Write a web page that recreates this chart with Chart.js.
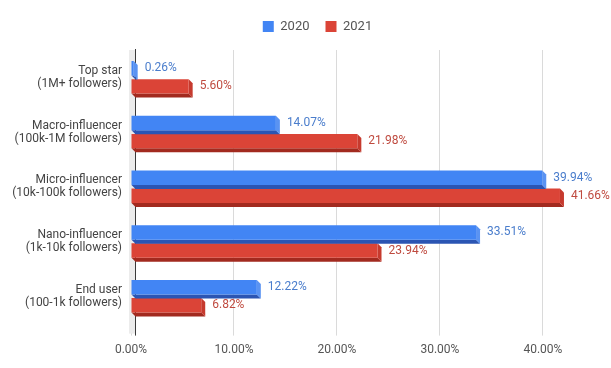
<!DOCTYPE html>
<html>
<head>
<meta charset="utf-8">
<script src="https://cdn.jsdelivr.net/npm/chart.js@4.4.1/dist/chart.umd.min.js"></script>
<style>
  html, body { margin: 0; padding: 0; background: #ffffff; }
  #wrap { width: 611px; height: 368px; position: relative; }
</style>
</head>
<body>
<div id="wrap"><canvas id="c" width="611" height="368"></canvas></div>
<script>
const categories = [
  ['Top star', '(1M+ followers)'],
  ['Macro-influencer', '(100k-1M followers)'],
  ['Micro-influencer', '(10k-100k followers)'],
  ['Nano-influencer', '(1k-10k followers)'],
  ['End user', '(100-1k followers)']
];
const seriesNames = ['2020', '2021'];
const values2020 = [0.26, 14.07, 39.94, 33.51, 12.22];
const values2021 = [5.60, 21.98, 41.66, 23.94, 6.82];
const xTickValues = [0, 10, 20, 30, 40];

const FONT = 'Roboto, "Noto Sans", Arial, sans-serif';
const styles = [
  { front: '#4285f4', bottom: '#2b55b3', side: '#5a93f2', label: '#4a7dcc' },
  { front: '#db4437', bottom: '#a22a1f', side: '#c63a2e', label: '#bf4a3f' }
];
const DX = 4, DY = 4;

const layoutTweaks = {
  id: 'layoutTweaks',
  beforeLayout(chart) {
    const lg = chart.legend;
    if (lg && !lg._extraGap) {
      const fit = lg.fit;
      lg.fit = function () { fit.call(this); this.height += 7; };
      lg._extraGap = true;
    }
  },
  afterLayout(chart) { chart.scales.y.left = 0; }
};

const depthPlugin = {
  id: 'depth3d',
  beforeDatasetsDraw(chart) {
    const ctx = chart.ctx;
    const area = chart.chartArea;
    const x0 = chart.scales.x.getPixelForValue(0);
    ctx.save();
    ctx.fillStyle = '#ececec';
    ctx.fillRect(x0 - 2, area.top, 6, area.bottom - area.top + 10);
    ctx.strokeStyle = '#3a3a3a';
    ctx.lineWidth = 1;
    ctx.beginPath();
    ctx.moveTo(Math.round(x0 + 4) + 0.5, area.top - 1);
    ctx.lineTo(Math.round(x0 + 4) + 0.5, area.bottom + 12);
    ctx.stroke();
    ctx.restore();
  },
  beforeDatasetDraw(chart, args) {
    const ctx = chart.ctx;
    const st = styles[args.index];
    const meta = chart.getDatasetMeta(args.index);
    ctx.save();
    meta.data.forEach(el => {
      const p = el.getProps(['x', 'y', 'base', 'height'], true);
      const left = Math.min(p.x, p.base), right = Math.max(p.x, p.base);
      const top = p.y - p.height / 2, bottom = p.y + p.height / 2;
      ctx.fillStyle = st.bottom;
      ctx.beginPath();
      ctx.moveTo(left, bottom);
      ctx.lineTo(right, bottom);
      ctx.lineTo(right + DX, bottom + DY);
      ctx.lineTo(left + DX, bottom + DY);
      ctx.closePath();
      ctx.fill();
      ctx.fillStyle = st.side;
      ctx.beginPath();
      ctx.moveTo(right, top);
      ctx.lineTo(right + DX, top + DY);
      ctx.lineTo(right + DX, bottom + DY);
      ctx.lineTo(right, bottom);
      ctx.closePath();
      ctx.fill();
    });
    ctx.restore();
  }
};

const labelPlugin = {
  id: 'valueLabels',
  afterDatasetsDraw(chart) {
    const ctx = chart.ctx;
    ctx.save();
    ctx.font = '12px ' + FONT;
    ctx.textAlign = 'left';
    ctx.textBaseline = 'middle';
    chart.data.datasets.forEach((ds, i) => {
      const meta = chart.getDatasetMeta(i);
      ctx.fillStyle = styles[i].label;
      meta.data.forEach((el, j) => {
        const p = el.getProps(['x', 'y'], true);
        ctx.fillText(ds.data[j].toFixed(2) + '%', p.x + 11, p.y);
      });
    });
    ctx.restore();
  }
};

new Chart(document.getElementById('c'), {
  type: 'bar',
  data: {
    labels: categories,
    datasets: [
      { label: seriesNames[0], data: values2020, backgroundColor: styles[0].front, borderWidth: 0 },
      { label: seriesNames[1], data: values2021, backgroundColor: styles[1].front, borderWidth: 0 }
    ]
  },
  options: {
    indexAxis: 'y',
    responsive: false,
    animation: false,
    devicePixelRatio: 1,
    categoryPercentage: 0.66,
    barPercentage: 0.8,
    layout: { padding: { left: 53, right: 29, top: 4, bottom: 4 } },
    plugins: {
      legend: {
        position: 'top',
        labels: {
          boxWidth: 11, boxHeight: 11, padding: 16,
          color: '#555555',
          font: { family: FONT, size: 13 }
        }
      },
      tooltip: { enabled: false }
    },
    scales: {
      x: {
        type: 'linear',
        min: 0,
        max: 43.8,
        afterBuildTicks(scale) { scale.ticks = xTickValues.map(v => ({ value: v })); },
        ticks: {
          color: '#555555',
          font: { family: FONT, size: 12 },
          padding: 7,
          maxRotation: 0,
          callback: v => Number(v).toFixed(2) + '%'
        },
        grid: { color: '#dadada', tickLength: 12, drawTicks: true },
        border: { display: false }
      },
      y: {
        afterFit(scale) { scale.width = 78; },
        ticks: {
          color: '#444444',
          font: { family: FONT, size: 12, lineHeight: 1.08 },
          padding: 9
        },
        grid: { display: false, drawTicks: false },
        border: { display: false }
      }
    }
  },
  plugins: [layoutTweaks, depthPlugin, labelPlugin]
});
</script>
</body>
</html>
